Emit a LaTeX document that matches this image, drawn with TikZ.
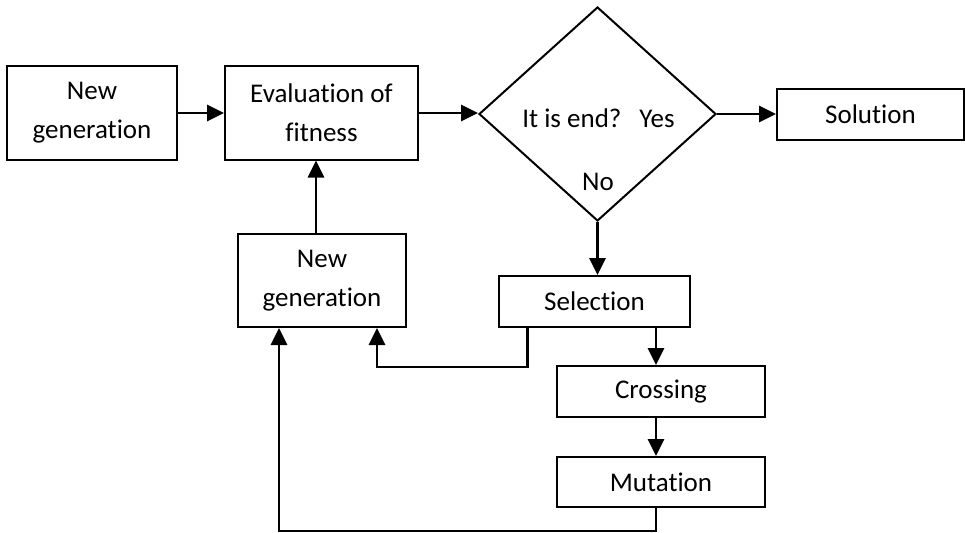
\documentclass[tikz,border=0pt]{standalone}
\usepackage{fontspec}
\setmainfont[Ligatures=NoCommon]{Carlito}
\usepackage{tikz}
\usetikzlibrary{positioning,shapes.geometric,arrows.meta}

\begin{document}
\begin{tikzpicture}[
  x=1pt, y=-1pt,
  box/.style={rectangle, draw, line width=2pt, inner sep=0pt,
    align=center, font=\fontsize{27}{39}\selectfont},
  cond/.style={diamond, draw, line width=2pt, inner sep=0pt,
    minimum width=237pt, minimum height=214pt},
  txt/.style={inner sep=0pt, font=\fontsize{27}{39}\selectfont},
  flow/.style={line width=2.8pt, -{Triangle[length=17pt,width=16pt]}}
]
\useasboundingbox (0,0) rectangle (965,532);

% ── Nodes ──
\node[box, minimum width=170pt, minimum height=93pt] (gen1) at (92,113)
  {New\\generation};
\node[box, minimum width=193pt, minimum height=93pt] (eval) at (321.5,113)
  {Evaluation of\\fitness};
\node[cond] (end) at (597.5,114) {};
\node[txt] (q) at (598.5,118) {It is end?\hspace{18pt}Yes};
\node[txt] (no) at (598,182) {No};
\node[box, minimum width=187pt, minimum height=51pt] (sol) at (870.5,114.5)
  {Solution};
\node[box, minimum width=168pt, minimum height=93pt] (gen2) at (322,280.5)
  {New\\generation};
\node[box, minimum width=191pt, minimum height=51pt] (sel) at (594.5,301.5)
  {Selection};
\node[box, minimum width=208pt, minimum height=51pt] (cross) at (661,391.5)
  {Crossing};
\node[box, minimum width=208pt, minimum height=50pt] (mut) at (661,482)
  {Mutation};

% ── Main flow ──
\draw[flow] (gen1.east) -- (eval.west);
\draw[flow] (eval.east) -- (eval.east -| end.west);
\draw[flow] (end.east) -- (end.east -| sol.west);
\draw[flow] (end.south) -- (end.south |- sel.north);
\draw[flow] ([xshift=-5pt]cross.north |- sel.south) -- ([xshift=-5pt]cross.north);
\draw[flow] ([xshift=-5pt]cross.south) -- ([xshift=-5pt]mut.north);
\draw[flow] ([xshift=-6pt]gen2.north) -- ([xshift=-6pt]gen2.north |- eval.south);

% ── Feedback loops ──
\draw[flow] ([xshift=-67pt]sel.south) -- ++(0,39) -| ([xshift=55pt]gen2.south);
\draw[flow] ([xshift=-5pt]mut.south) -- ++(0,23) -| ([xshift=-43pt]gen2.south);

\end{tikzpicture}
\end{document}
